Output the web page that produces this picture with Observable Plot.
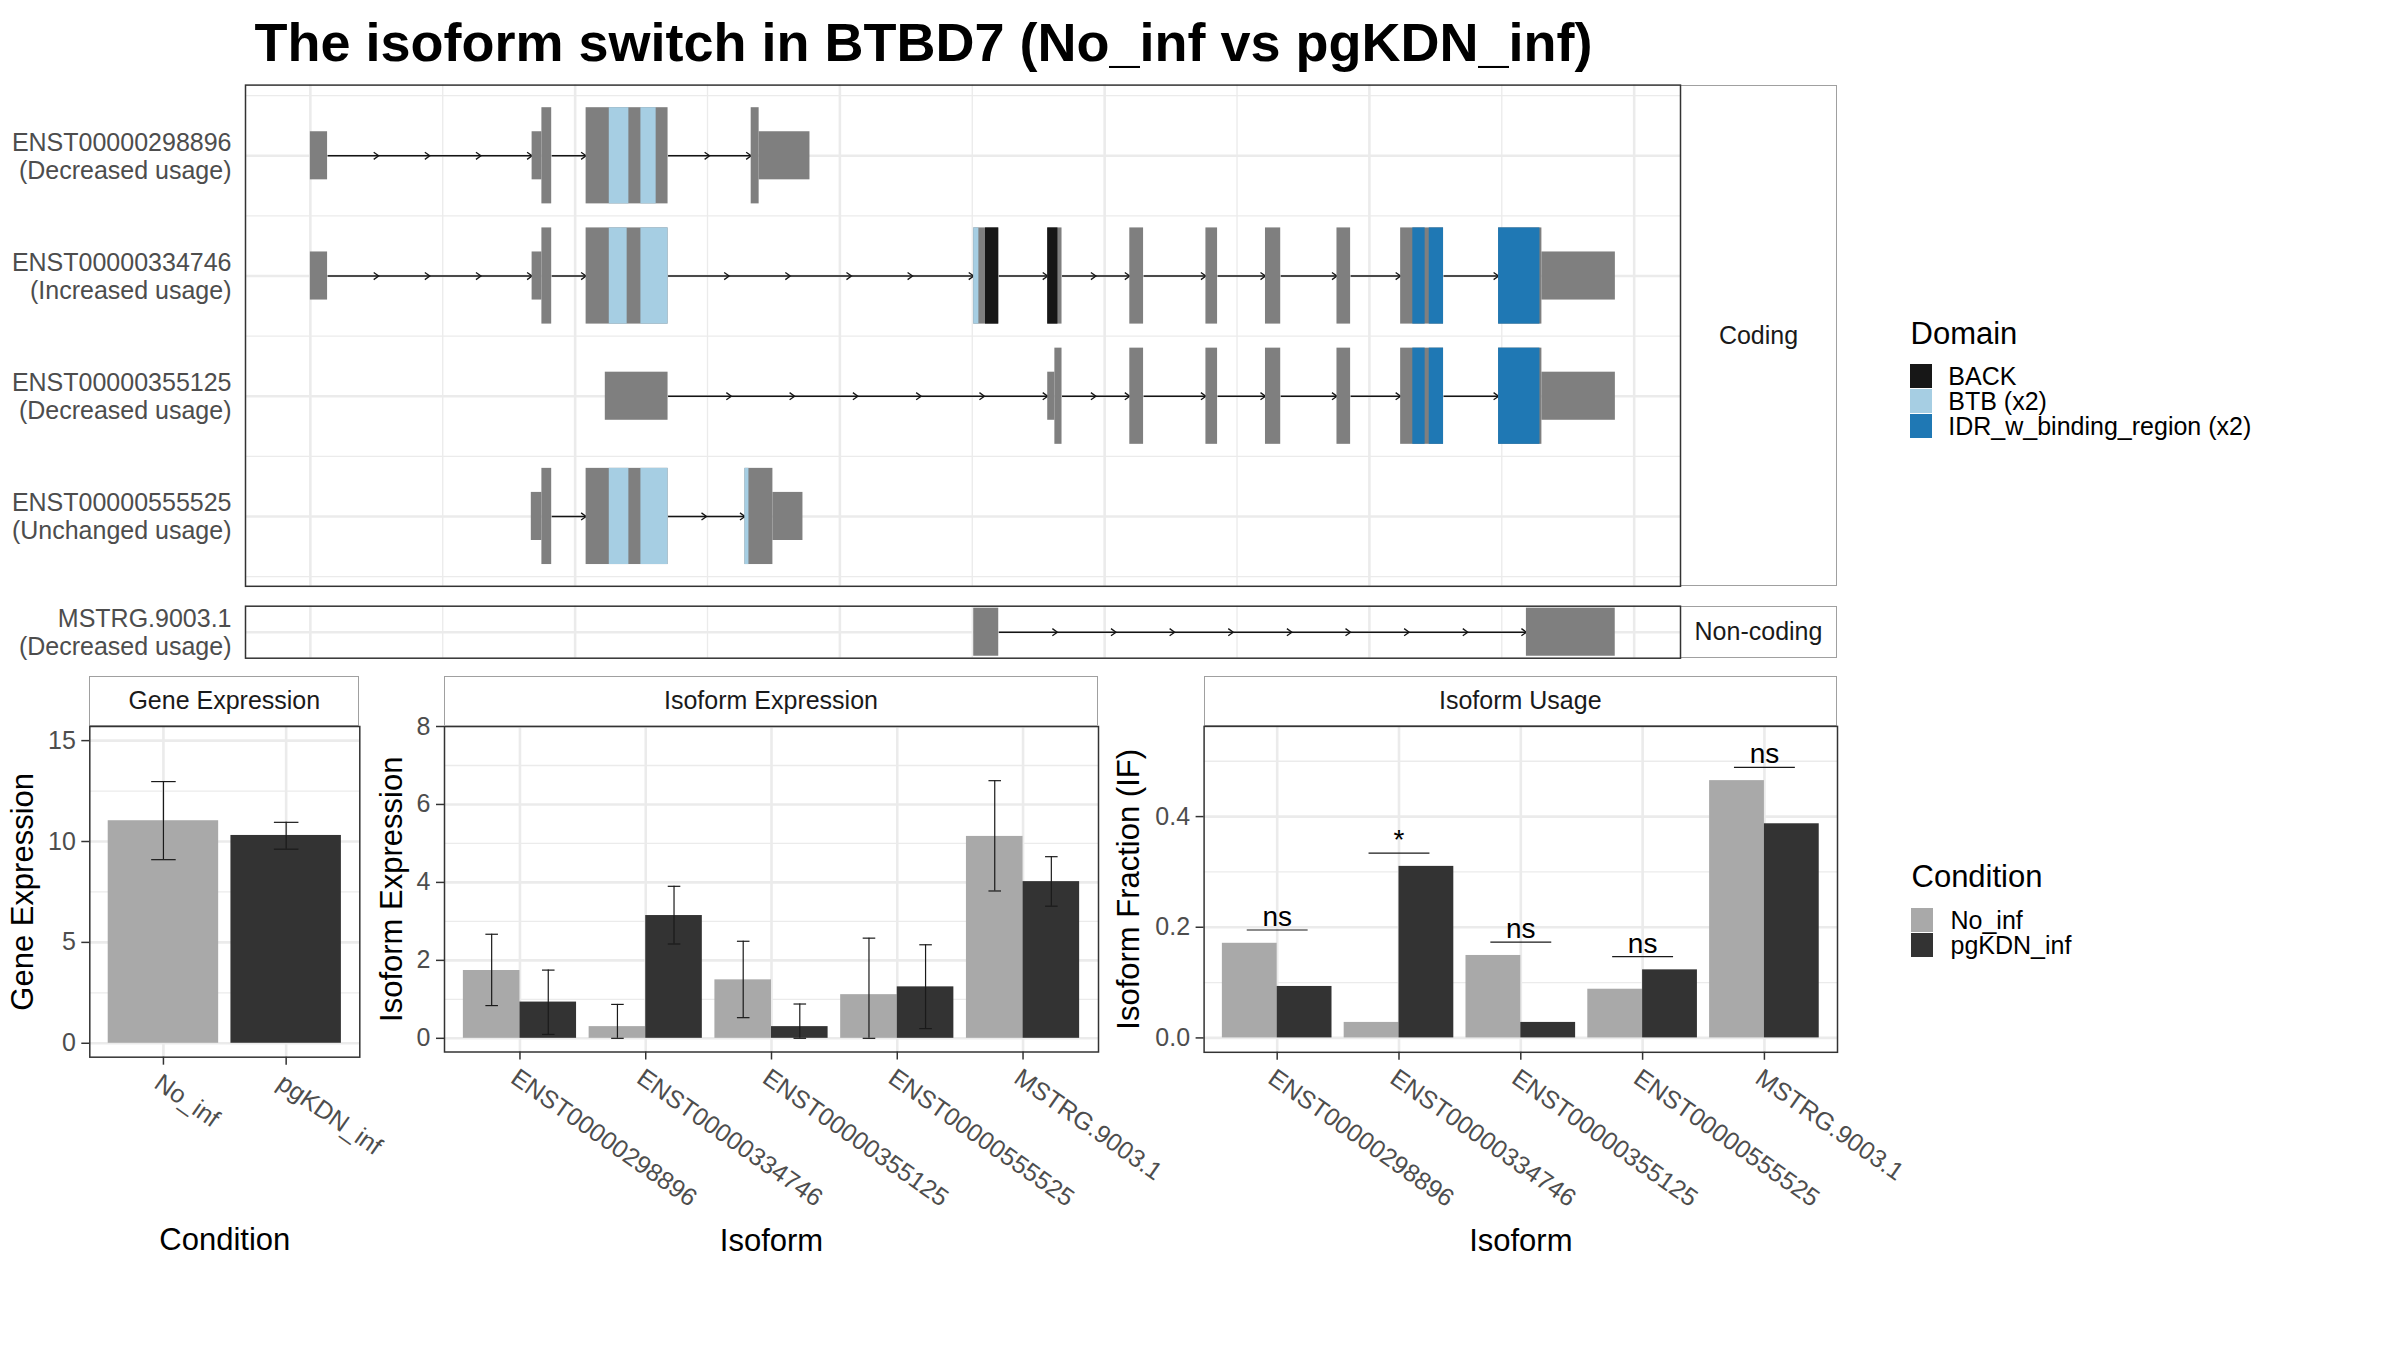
<!DOCTYPE html>
<html><head><meta charset="utf-8">
<script src="https://cdn.jsdelivr.net/npm/d3@7"></script>
<script src="https://cdn.jsdelivr.net/npm/@observablehq/plot@0.6"></script>
<style>
html,body{margin:0;padding:0;background:#fff;}
#root{position:relative;width:2400px;height:1350px;overflow:hidden;background:#fff;font-family:"Liberation Sans",Arial,Helvetica,sans-serif;}
.strip{position:absolute;box-sizing:border-box;border:1.4px solid #a0a0a0;background:#fff;display:flex;align-items:center;justify-content:center;font-size:25px;color:#1a1a1a;white-space:nowrap;}
.txt{position:absolute;white-space:nowrap;color:#000;}
.sw{position:absolute;}
</style></head><body><div id="root"></div>
<script>
// ================= DATA =================
const chartTitle = "The isoform switch in BTBD7 (No_inf vs pgKDN_inf)";
const transcripts = ["ENST00000298896","ENST00000334746","ENST00000355125","ENST00000555525"];
const transcriptUsage = ["Decreased usage","Increased usage","Decreased usage","Unchanged usage"];
const noncodingTranscripts = ["MSTRG.9003.1"];
const noncodingUsage = ["Decreased usage"];
const structureGroups = ["Coding","Non-coding"];

// exon pieces: [start, end, kind] (relative genomic coordinate)
const exons298896 = [[0.000,0.130,"UTR"],[1.675,1.749,"UTR"],[1.749,1.823,"CDS"],[2.083,2.702,"CDS"],[3.330,3.390,"CDS"],[3.390,3.774,"UTR"]];
const exons334746 = [[0.000,0.130,"UTR"],[1.675,1.749,"UTR"],[1.749,1.823,"CDS"],[2.083,2.702,"CDS"],[5.011,5.200,"CDS"],[5.570,5.678,"CDS"],[6.190,6.294,"CDS"],[6.765,6.853,"CDS"],[7.215,7.330,"CDS"],[7.755,7.858,"CDS"],[8.236,8.560,"CDS"],[8.976,9.303,"CDS"],[9.303,9.858,"UTR"]];
const exons355125 = [[2.228,2.702,"UTR"],[5.570,5.624,"UTR"],[5.624,5.678,"CDS"],[6.190,6.294,"CDS"],[6.765,6.853,"CDS"],[7.215,7.330,"CDS"],[7.755,7.858,"CDS"],[8.236,8.560,"CDS"],[8.976,9.303,"CDS"],[9.303,9.858,"UTR"]];
const exons555525 = [[1.669,1.749,"UTR"],[1.749,1.823,"CDS"],[2.083,2.702,"CDS"],[3.283,3.494,"CDS"],[3.494,3.721,"UTR"]];
const exonsMSTRG9003 = [[5.011,5.200,"NC"],[9.186,9.857,"NC"]];

const domainNames = ["BACK","BTB (x2)","IDR_w_binding_region (x2)"];
const domainColors = ["#171717","#a6cee3","#1f78b4"];
const domains298896 = [[2.258,2.406,"BTB (x2)"],[2.497,2.612,"BTB (x2)"]];
const domains334746 = [[2.258,2.393,"BTB (x2)"],[2.497,2.702,"BTB (x2)"],[5.011,5.050,"BTB (x2)"],[5.100,5.200,"BACK"],[5.570,5.647,"BACK"],[8.328,8.421,"IDR_w_binding_region (x2)"],[8.452,8.560,"IDR_w_binding_region (x2)"],[8.976,9.288,"IDR_w_binding_region (x2)"]];
const domains355125 = [[8.328,8.421,"IDR_w_binding_region (x2)"],[8.452,8.560,"IDR_w_binding_region (x2)"],[8.976,9.288,"IDR_w_binding_region (x2)"]];
const domains555525 = [[2.258,2.406,"BTB (x2)"],[2.497,2.702,"BTB (x2)"],[3.283,3.313,"BTB (x2)"]];

const conditions = ["No_inf","pgKDN_inf"];
const conditionColors = ["#a9a9a9","#333333"];

const geneExpr = [11.03, 10.30];
const geneExprLow = [9.10, 9.62];
const geneExprHigh = [12.97, 10.95];

const isoforms = ["ENST00000298896","ENST00000334746","ENST00000355125","ENST00000555525","MSTRG.9003.1"];
const isoExprNoInf = [1.74, 0.30, 1.50, 1.12, 5.18];
const isoExprNoInfLow = [0.84, 0.00, 0.53, 0.00, 3.78];
const isoExprNoInfHigh = [2.67, 0.87, 2.49, 2.57, 6.61];
const isoExprPgKDN = [0.93, 3.15, 0.30, 1.32, 4.02];
const isoExprPgKDNLow = [0.10, 2.42, 0.00, 0.25, 3.39];
const isoExprPgKDNHigh = [1.75, 3.90, 0.88, 2.40, 4.66];

const isoUsageNoInf = [0.171, 0.028, 0.149, 0.088, 0.465];
const isoUsagePgKDN = [0.093, 0.310, 0.028, 0.123, 0.387];
const usageSignif = ["ns","*","ns","ns","ns"];

const geneTicks = [0,5,10,15];
const isoExprTicks = [0,2,4,6,8];
const isoUsageTicks = [0,0.2,0.4];

// ================= HELPERS =================
const FONT = '"Liberation Sans", Arial, Helvetica, sans-serif';
const root = document.getElementById("root");
const GRID = "#ebebeb";
const BORDER = "#333333";
const TICKTXT = "#4d4d4d";
const baseStyle = {background:"transparent", overflow:"visible", fontFamily: FONT};

// open chevron symbol (intron direction arrow), tip at the point
const chevron = {draw(ctx) { ctx.moveTo(-5, -3.6); ctx.lineTo(0, 0); ctx.lineTo(-5, 3.6); }};

function addText(text, x, baseline, size, extra={}) {
  const d = document.createElement("div");
  d.className = "txt";
  d.textContent = text;
  Object.assign(d.style, {left: x+"px", top: (baseline - 0.8465*size)+"px", fontSize: size+"px", lineHeight: size+"px"}, extra);
  root.appendChild(d);
  return d;
}
function addStrip(text, l, t, w, h) {
  const d = document.createElement("div");
  d.className = "strip";
  d.textContent = text;
  Object.assign(d.style, {left:l+"px", top:t+"px", width:w+"px", height:h+"px"});
  root.appendChild(d);
}
function place(svg, left, top) {
  svg.style.position = "absolute";
  svg.style.left = left+"px";
  svg.style.top = top+"px";
  root.appendChild(svg);
}
function buildRows(exonSets) {
  const ex = [], introns = [];
  exonSets.forEach((set, k) => {
    const row = k + 1;
    set.forEach(([s, e, kind]) => ex.push({row, x1: s, x2: e, kind}));
    const blocks = [];
    set.forEach(([s, e]) => {
      const b = blocks[blocks.length - 1];
      if (b && Math.abs(b[1] - s) < 1e-9) b[1] = e; else blocks.push([s, e]);
    });
    for (let j = 1; j < blocks.length; j++) {
      const a = blocks[j-1][1], b = blocks[j][0];
      const n = Math.max(1, Math.ceil((b - a) / 0.49));
      for (let q = 0; q < n; q++) introns.push({row, x1: a + (b - a) * q / n, x2: a + (b - a) * (q + 1) / n});
    }
  });
  return {ex, introns};
}
const halfH = d => d.kind === "CDS" ? 0.4 : 0.2;
const X_DOMAIN = [-0.49, 10.35];
const majorX = [0,2,4,6,8,10], minorX = [1,3,5,7,9];

function intronMarks(introns) {
  return [
    Plot.link(introns, {x1: "x1", x2: "x2", y1: "row", y2: "row", stroke: "#141414", strokeWidth: 1.4}),
    Plot.dot(introns, {x: "x2", y: "row", symbol: chevron, r: 4, fill: "none", stroke: "#141414", strokeWidth: 1.3})
  ];
}

// ================= TITLE =================
addText(chartTitle, 254.5, 61.2, 54, {fontWeight: "bold"});

// ================= STRIPS =================
addStrip(structureGroups[0], 1680, 84.6, 157, 501.2);
addStrip(structureGroups[1], 1680, 605.7, 157, 52);
addStrip("Gene Expression", 89.3, 675.8, 270, 50.4);
addStrip("Isoform Expression", 444, 675.8, 654, 50.4);
addStrip("Isoform Usage", 1203.6, 675.6, 633.4, 50.6);

// ================= TRANSCRIPT STRUCTURE (coding) =================
{
  const {ex, introns} = buildRows([exons298896, exons334746, exons355125, exons555525]);
  const dom = [domains298896, domains334746, domains355125, domains555525]
    .flatMap((set, k) => set.map(([s, e, t]) => ({row: k + 1, x1: s, x2: e, type: t})));
  const svg = Plot.plot({
    width: 1690, height: 510, marginLeft: 245, marginTop: 4.6, marginRight: 10, marginBottom: 4.2,
    style: baseStyle,
    x: {domain: X_DOMAIN, axis: null},
    y: {domain: [0.412, 4.581], reverse: true, label: null},
    color: {domain: domainNames, range: domainColors},
    marks: [
      Plot.gridX(minorX, {stroke: GRID, strokeOpacity: 1, strokeWidth: 1.3}),
      Plot.gridX(majorX, {stroke: GRID, strokeOpacity: 1, strokeWidth: 2.6}),
      Plot.gridY([0.5,1.5,2.5,3.5,4.5], {stroke: GRID, strokeOpacity: 1, strokeWidth: 1.3}),
      Plot.gridY([1,2,3,4], {stroke: GRID, strokeOpacity: 1, strokeWidth: 2.6}),
      ...intronMarks(introns),
      Plot.rect(ex, {x1: "x1", x2: "x2", y1: d => d.row - halfH(d), y2: d => d.row + halfH(d), fill: "#7f7f7f"}),
      Plot.rect(dom, {x1: "x1", x2: "x2", y1: d => d.row - 0.4, y2: d => d.row + 0.4, fill: "type"}),
      Plot.axisY([1,2,3,4], {tickSize: 0, tickPadding: 14, label: null, fontSize: 25, fill: TICKTXT, lineHeight: 1.12,
        tickFormat: i => transcripts[i-1] + "\n(" + transcriptUsage[i-1] + ")"}),
      Plot.frame({stroke: BORDER, strokeWidth: 1.5})
    ]
  });
  place(svg, 0, 80);
}

// ================= TRANSCRIPT STRUCTURE (non-coding) =================
{
  const {ex, introns} = buildRows([exonsMSTRG9003]);
  const svg = Plot.plot({
    width: 1690, height: 70, marginLeft: 245, marginTop: 9.7, marginRight: 10, marginBottom: 8.3,
    style: baseStyle,
    x: {domain: X_DOMAIN, axis: null},
    y: {domain: [0.7837, 1.2163], reverse: true, label: null},
    marks: [
      Plot.gridX(minorX, {stroke: GRID, strokeOpacity: 1, strokeWidth: 1.3}),
      Plot.gridX(majorX, {stroke: GRID, strokeOpacity: 1, strokeWidth: 2.6}),
      Plot.gridY([1], {stroke: GRID, strokeOpacity: 1, strokeWidth: 2.6}),
      ...intronMarks(introns),
      Plot.rect(ex, {x1: "x1", x2: "x2", y1: d => d.row - halfH(d), y2: d => d.row + halfH(d), fill: "#7f7f7f"}),
      Plot.axisY([1], {tickSize: 0, tickPadding: 14, label: null, fontSize: 25, fill: TICKTXT, lineHeight: 1.12,
        tickFormat: i => noncodingTranscripts[i-1] + "\n(" + noncodingUsage[i-1] + ")"}),
      Plot.frame({stroke: BORDER, strokeWidth: 1.5})
    ]
  });
  place(svg, 0, 596);
}

// ================= BAR CHART HELPERS =================
function xAxes(n, labels, tickPad) {
  const idx = d3.range(n);
  return [
    Plot.axisX(idx, {tickSize: 8, tickFormat: () => "", stroke: BORDER, strokeWidth: 1.5, label: null}),
    Plot.axisX(idx, {tickSize: 0, tickPadding: tickPad, tickRotate: 35, textAnchor: "start", lineAnchor: "middle",
      tickFormat: i => labels[i], fontSize: 25, fill: TICKTXT, dx: -6, label: null})
  ];
}
function yAxis(ticks, fmt) {
  return Plot.axisY(ticks, {tickSize: 8, tickPadding: 6, fontSize: 25, fill: TICKTXT, stroke: BORDER, strokeWidth: 1.5, label: null, tickFormat: fmt});
}
function grids(major, minor, n) {
  return [
    Plot.gridY(minor, {stroke: GRID, strokeOpacity: 1, strokeWidth: 1.3}),
    Plot.gridY(major, {stroke: GRID, strokeOpacity: 1, strokeWidth: 2.6}),
    Plot.gridX(d3.range(n), {stroke: GRID, strokeOpacity: 1, strokeWidth: 2.6})
  ];
}
function titles(yTitle, yDx, xTitle, xDy) {
  return [
    Plot.text([yTitle], {text: d => d, frameAnchor: "left", dx: yDx, rotate: -90, textAnchor: "middle", lineAnchor: "middle", fontSize: 31, fill: "#000"}),
    Plot.text([xTitle], {text: d => d, frameAnchor: "bottom", dy: xDy, textAnchor: "middle", lineAnchor: "bottom", fontSize: 31, fill: "#000"})
  ];
}
function caps(data, w) {
  return data.flatMap(d => [{x1: d.x - w, x2: d.x + w, y: d.lo}, {x1: d.x - w, x2: d.x + w, y: d.hi}]);
}

// ================= GENE EXPRESSION =================
{
  const data = conditions.map((c, i) => ({c, x: i, x1: i - 0.45, x2: i + 0.45, v: geneExpr[i], lo: geneExprLow[i], hi: geneExprHigh[i]}));
  const svg = Plot.plot({
    width: 369.3, height: 570, marginLeft: 89.3, marginTop: 6, marginRight: 10, marginBottom: 233.3,
    style: baseStyle,
    x: {domain: [-0.6, 1.6], label: null},
    y: {domain: [-0.69, 15.70], label: null},
    color: {domain: conditions, range: conditionColors},
    marks: [
      ...grids(geneTicks, [2.5, 7.5, 12.5], 2),
      Plot.rect(data, {x1: "x1", x2: "x2", y1: 0, y2: "v", fill: "c"}),
      Plot.ruleX(data, {x: "x", y1: "lo", y2: "hi", stroke: "#1a1a1a", strokeWidth: 1.2}),
      Plot.link(caps(data, 0.1), {x1: "x1", x2: "x2", y1: "y", y2: "y", stroke: "#1a1a1a", strokeWidth: 1.2}),
      yAxis(geneTicks, d => String(d)),
      ...xAxes(2, conditions, 23),
      Plot.frame({stroke: BORDER, strokeWidth: 1.5}),
      ...titles("Gene Expression", -67, "Condition", 193.3)
    ]
  });
  place(svg, 0, 720);
}

// ================= ISOFORM EXPRESSION =================
{
  const data = isoforms.flatMap((iso, i) => [
    {c: conditions[0], x: i - 0.225, x1: i - 0.45, x2: i, v: isoExprNoInf[i], lo: isoExprNoInfLow[i], hi: isoExprNoInfHigh[i]},
    {c: conditions[1], x: i + 0.225, x1: i, x2: i + 0.45, v: isoExprPgKDN[i], lo: isoExprPgKDNLow[i], hi: isoExprPgKDNHigh[i]}
  ]);
  const svg = Plot.plot({
    width: 808, height: 570, marginLeft: 144, marginTop: 6, marginRight: 10, marginBottom: 238.5,
    style: baseStyle,
    x: {domain: [-0.6, 4.6], label: null},
    y: {domain: [-0.351, 8.0], label: null},
    color: {domain: conditions, range: conditionColors},
    marks: [
      ...grids(isoExprTicks, [1, 3, 5, 7], 5),
      Plot.rect(data, {x1: "x1", x2: "x2", y1: 0, y2: "v", fill: "c"}),
      Plot.ruleX(data, {x: "x", y1: "lo", y2: "hi", stroke: "#1a1a1a", strokeWidth: 1.2}),
      Plot.link(caps(data, 0.05), {x1: "x1", x2: "x2", y1: "y", y2: "y", stroke: "#1a1a1a", strokeWidth: 1.2}),
      yAxis(isoExprTicks, d => String(d)),
      ...xAxes(5, isoforms, 23),
      Plot.frame({stroke: BORDER, strokeWidth: 1.5}),
      ...titles("Isoform Expression", -52, "Isoform", 198.5)
    ]
  });
  place(svg, 300, 720);
}

// ================= ISOFORM USAGE =================
{
  const data = isoforms.flatMap((iso, i) => [
    {c: conditions[0], x1: i - 0.45, x2: i, v: isoUsageNoInf[i]},
    {c: conditions[1], x1: i, x2: i + 0.45, v: isoUsagePgKDN[i]}
  ]);
  const sig = isoforms.map((iso, i) => ({x: i, y: Math.max(isoUsageNoInf[i], isoUsagePgKDN[i]) + 0.024, label: usageSignif[i]}));
  const svg = Plot.plot({
    width: 747, height: 570, marginLeft: 103.6, marginTop: 5.9, marginRight: 10, marginBottom: 238.2,
    style: baseStyle,
    x: {domain: [-0.6, 4.6], label: null},
    y: {domain: [-0.026, 0.563], label: null},
    color: {domain: conditions, range: conditionColors},
    marks: [
      ...grids(isoUsageTicks, [0.1, 0.3, 0.5], 5),
      Plot.rect(data, {x1: "x1", x2: "x2", y1: 0, y2: "v", fill: "c"}),
      Plot.link(sig, {x1: d => d.x - 0.25, x2: d => d.x + 0.25, y1: "y", y2: "y", stroke: "#1a1a1a", strokeWidth: 1.2}),
      Plot.text(sig, {x: "x", y: "y", text: "label", dy: -4, lineAnchor: "bottom", fontSize: 28, fill: "#000"}),
      yAxis(isoUsageTicks, d3.format(".1f")),
      ...xAxes(5, isoforms, 23),
      Plot.frame({stroke: BORDER, strokeWidth: 1.5}),
      ...titles("Isoform Fraction (IF)", -74.6, "Isoform", 198.2)
    ]
  });
  place(svg, 1100, 720);
}

// ================= LEGENDS =================
function legend(title, names, colors, x, titleBase, swTop, swStep, swH, labelX) {
  addText(title, x, titleBase, 31);
  names.forEach((n, i) => {
    const s = document.createElement("div");
    s.className = "sw";
    Object.assign(s.style, {left: (x - 0.5) + "px", top: (swTop + i * swStep) + "px", width: "21.7px", height: swH + "px", background: colors[i]});
    root.appendChild(s);
    const center = swTop + i * swStep + swH / 2;
    addText(n, labelX, center + 0.358 * 25, 25);
  });
}
legend("Domain", domainNames, domainColors, 1910.5, 344.3, 364, 25, 23.6, 1948.3);
legend("Condition", conditions, conditionColors, 1911.5, 887.5, 908.3, 25, 23.4, 1950.5);
</script></body></html>
